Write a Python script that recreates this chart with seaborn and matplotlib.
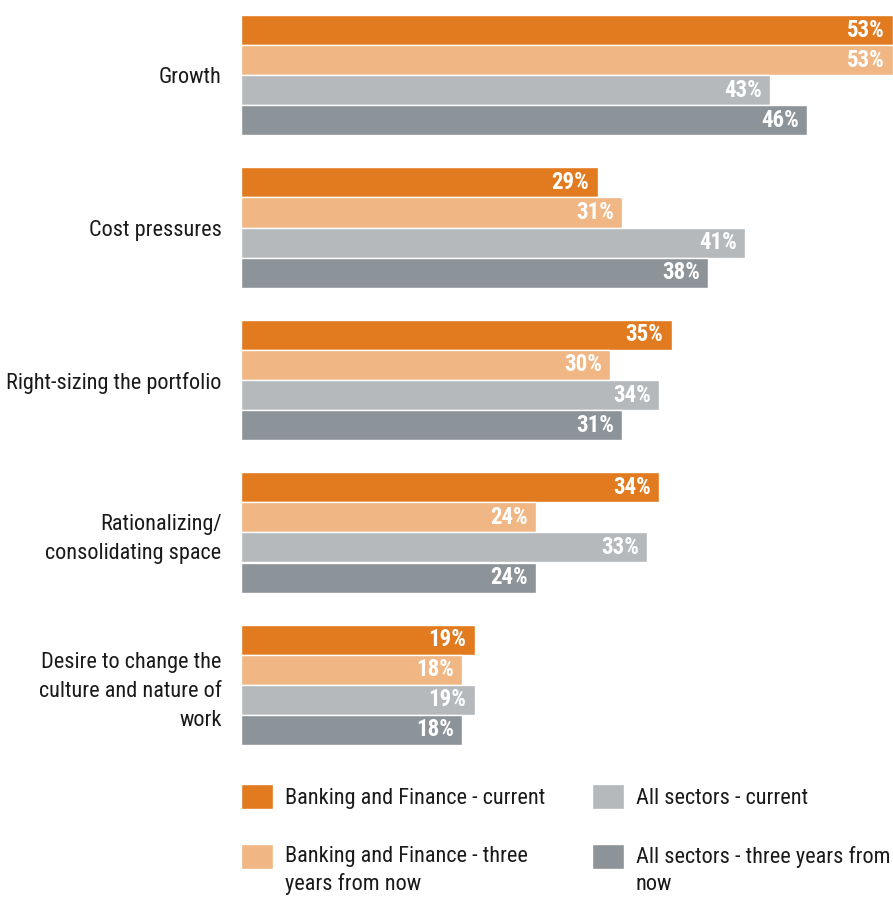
import matplotlib
matplotlib.use("Agg")
import matplotlib.pyplot as plt
from matplotlib.legend_handler import HandlerPatch
from matplotlib.patches import Rectangle
import seaborn as sns
import pandas as pd

# Survey data: drivers of real estate strategy (% of respondents)
categories = [
    "Growth",
    "Cost pressures",
    "Right-sizing the portfolio",
    "Rationalizing/\nconsolidating space",
    "Desire to change the\nculture and nature of\nwork",
]
series = [
    "Banking and Finance - current",
    "Banking and Finance - three\nyears from now",
    "All sectors - current",
    "All sectors - three years from\nnow",
]
bf_current = [53, 29, 35, 34, 19]
bf_three_years = [53, 31, 30, 24, 18]
all_current = [43, 41, 34, 33, 19]
all_three_years = [46, 38, 31, 24, 18]
colors = ["#E27B1F", "#F0B683", "#B5B9BC", "#8C9399"]

values = [bf_current, bf_three_years, all_current, all_three_years]
df = pd.DataFrame(
    [(c, s, v[i]) for s, v in zip(series, values) for i, c in enumerate(categories)],
    columns=["driver", "group", "pct"],
)

sns.set_theme(style="white")
plt.rcParams["font.family"] = ["Roboto Condensed", "PT Sans Narrow", "Liberation Sans", "DejaVu Sans"]
FS = 16
TEXT = "#1a1a1a"

fig = plt.figure(figsize=(8.93, 8.97), dpi=100)
ax = fig.add_axes([241 / 893, 1 - 745 / 897, 1 - 241 / 893, 730 / 897])

sns.barplot(
    data=df, y="driver", x="pct", hue="group", order=categories,
    hue_order=series, palette=colors, orient="h", width=0.79,
    saturation=1, ax=ax, legend=True,
)

for cont in ax.containers:
    texts = ax.bar_label(cont, labels=[f"{w:.0f}%" for w in cont.datavalues],
                         padding=-6, color="white", fontweight="bold",
                         fontsize=16.5)
    for t in texts:
        t.set_ha("right")

ax.set_xlim(0, 53)
ax.set_ylim(len(categories) - 1 + 0.395, -0.395)
ax.set_xlabel("")
ax.set_ylabel("")
ax.set_xticks([])
ax.tick_params(axis="y", length=0, pad=14, labelsize=FS, labelcolor=TEXT)
for lab in ax.get_yticklabels():
    lab.set_linespacing(1.5)
for sp in ax.spines.values():
    sp.set_visible(False)

handles, labels = ax.get_legend_handles_labels()
ax.get_legend().remove()


class SquareHandler(HandlerPatch):
    """Legend square that can be lifted to sit beside the first text line."""

    def __init__(self, lift=0.0, **kw):
        super().__init__(**kw)
        self.lift = lift

    def create_artists(self, legend, orig_handle, xdescent, ydescent,
                       width, height, fontsize, trans):
        p = Rectangle((-xdescent, -ydescent + self.lift * fontsize), width, height)
        self.update_prop(p, orig_handle, legend)
        p.set_transform(trans)
        return [p]


hmap = {h: SquareHandler(lift=0.64 if "\n" in lab else 0.0)
        for h, lab in zip(handles, labels)}

leg = fig.legend(
    handles, labels, handler_map=hmap, ncol=2, frameon=False,
    loc="upper left", bbox_to_anchor=(241 / 893, 1 - 784 / 897),
    borderaxespad=0, borderpad=0, fontsize=FS,
    handlelength=32 / 22.2, handleheight=30 / 22.2, handletextpad=0.54,
    columnspacing=2.1, labelspacing=1.65, labelcolor=TEXT,
)
for t in leg.get_texts():
    t.set_linespacing(1.4)

fig.savefig("out.png", dpi=100, facecolor="white")
